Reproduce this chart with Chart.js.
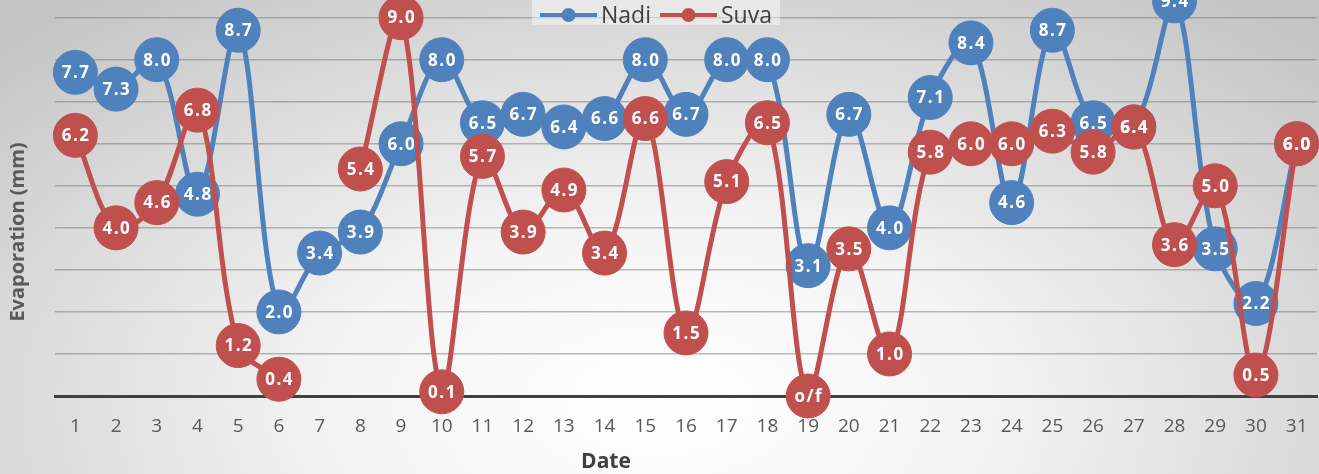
<!DOCTYPE html>
<html>
<head>
<meta charset="utf-8">
<script src="https://cdn.jsdelivr.net/npm/chart.js@4.4.1/dist/chart.umd.min.js"></script>
<style>
  html, body { margin: 0; padding: 0; width: 1319px; height: 474px; overflow: hidden; }
  body { background: radial-gradient(ellipse 70% 110% at 50% 85%, #ffffff 0%, #f4f4f4 35%, #c4c4c4 100%); }
  #wrap { position: relative; width: 1319px; height: 474px; }
  canvas { display: block; }
</style>
</head>
<body>
<div id="wrap"><canvas id="chart" width="1319" height="474"></canvas></div>
<script>
// Daily evaporation (mm) for one month
const days = ['1','2','3','4','5','6','7','8','9','10','11','12','13','14','15','16',
              '17','18','19','20','21','22','23','24','25','26','27','28','29','30','31'];
const nadiValues = [7.7, 7.3, 8.0, 4.8, 8.7, 2.0, 3.4, 3.9, 6.0, 8.0,
                    6.5, 6.7, 6.4, 6.6, 8.0, 6.7, 8.0, 8.0, 3.1, 6.7,
                    4.0, 7.1, 8.4, 4.6, 8.7, 6.5, 6.4, 9.4, 3.5, 2.2, 6.0];
const suvaValues = [6.2, 4.0, 4.6, 6.8, 1.2, 0.4, null, 5.4, 9.0, 0.1,
                    5.7, 3.9, 4.9, 3.4, 6.6, 1.5, 5.1, 6.5, 0, 3.5,
                    1.0, 5.8, 6.0, 6.0, 6.3, 5.8, 6.4, 3.6, 5.0, 0.5, 6.0];
// pan overflowed on this day: plotted at zero, labelled "o/f"
const suvaLabelText = { '19': 'o/f' };

const BLUE = '#4f81bd';
const RED = '#c0504d';
const FONT = '"Open Sans", "Liberation Sans", sans-serif';

// white value labels centred in each marker
const valueLabels = {
  id: 'valueLabels',
  afterDatasetsDraw(chart) {
    const ctx = chart.ctx;
    ctx.save();
    ctx.font = 'bold 17px ' + FONT;
    ctx.letterSpacing = '1.5px';
    ctx.fillStyle = '#ffffff';
    ctx.textAlign = 'center';
    ctx.textBaseline = 'middle';
    chart.data.datasets.forEach((ds, di) => {
      const meta = chart.getDatasetMeta(di);
      meta.data.forEach((pt, i) => {
        const v = ds.data[i];
        if (v === null || v === undefined) return;
        let txt = v.toFixed(1);
        if (ds.labelText && ds.labelText[days[i]]) txt = ds.labelText[days[i]];
        ctx.fillText(txt, pt.x + 0.75, pt.y + 1);
      });
    });
    ctx.restore();
  }
};

// axis titles and the line-with-marker legend
const decorations = {
  id: 'decorations',
  afterDraw(chart) {
    const ctx = chart.ctx;
    ctx.save();
    ctx.fillStyle = '#595959';
    ctx.font = 'bold 20px ' + FONT;
    ctx.textAlign = 'center';
    ctx.textBaseline = 'middle';
    ctx.translate(18, 232);
    ctx.rotate(-Math.PI / 2);
    ctx.fillText('Evaporation (mm)', 0, 0);
    ctx.restore();

    ctx.save();
    ctx.fillStyle = '#404040';
    ctx.font = 'bold 21px ' + FONT;
    ctx.textAlign = 'center';
    ctx.textBaseline = 'middle';
    ctx.fillText('Date', 606, 462);
    ctx.restore();

    // legend
    ctx.save();
    ctx.font = '23px ' + FONT;
    const items = chart.data.datasets.map(ds => ({ text: ds.label, color: ds.borderColor }));
    const lineLen = 57, gapText = 4, gapItem = 9;
    let total = 0;
    items.forEach((it, i) => {
      it.w = ctx.measureText(it.text).width;
      total += lineLen + gapText + it.w + (i < items.length - 1 ? gapItem : 0);
    });
    let x = 656 - total / 2;
    const y = 15;
    ctx.fillStyle = 'rgba(255,255,255,0.45)';
    ctx.fillRect(x - 8, 0, total + 16, 25);
    ctx.textBaseline = 'middle';
    ctx.textAlign = 'left';
    items.forEach(it => {
      ctx.strokeStyle = it.color;
      ctx.lineWidth = 4;
      ctx.beginPath();
      ctx.moveTo(x, y);
      ctx.lineTo(x + lineLen, y);
      ctx.stroke();
      ctx.fillStyle = it.color;
      ctx.beginPath();
      ctx.arc(x + lineLen / 2, y, 7, 0, Math.PI * 2);
      ctx.fill();
      ctx.fillStyle = '#404040';
      ctx.fillText(it.text, x + lineLen + gapText, y + 1);
      x += lineLen + gapText + it.w + gapItem;
    });
    ctx.restore();
  }
};

new Chart(document.getElementById('chart'), {
  type: 'line',
  data: {
    labels: days,
    datasets: [
      {
        label: 'Nadi',
        data: nadiValues,
        borderColor: BLUE,
        backgroundColor: BLUE,
        pointBackgroundColor: BLUE,
        pointBorderColor: BLUE,
        order: 1
      },
      {
        label: 'Suva',
        data: suvaValues,
        labelText: suvaLabelText,
        borderColor: RED,
        backgroundColor: RED,
        pointBackgroundColor: RED,
        pointBorderColor: RED,
        spanGaps: false,
        order: 0
      }
    ]
  },
  options: {
    responsive: false,
    animation: false,
    devicePixelRatio: 1,
    layout: { autoPadding: false, padding: { left: 0, right: 2, top: 0, bottom: 0 } },
    elements: {
      line: { borderWidth: 5, tension: 0.33, fill: false },
      point: { radius: 22, borderWidth: 1, hoverRadius: 22 }
    },
    datasets: { line: { clip: false } },
    plugins: {
      legend: { display: false },
      tooltip: { enabled: false }
    },
    scales: {
      x: {
        offset: true,
        grid: { display: false, drawTicks: false },
        border: { display: true, color: '#404040', width: 3 },
        ticks: {
          color: '#595959',
          font: { family: FONT, size: 19 },
          padding: 19,
          maxRotation: 0,
          autoSkip: false
        },
        afterFit(scale) {
          scale.height = 78;
          scale.paddingLeft = 0;
          scale.paddingRight = 0;
        }
      },
      y: {
        min: 0,
        max: 9.42,
        grid: { color: 'rgba(120,120,120,0.5)', lineWidth: 1.5, drawTicks: false },
        border: { display: false },
        ticks: { display: false, stepSize: 1, includeBounds: false },
        afterFit(scale) { scale.width = 55; }
      }
    }
  },
  plugins: [valueLabels, decorations]
});
</script>
</body>
</html>
